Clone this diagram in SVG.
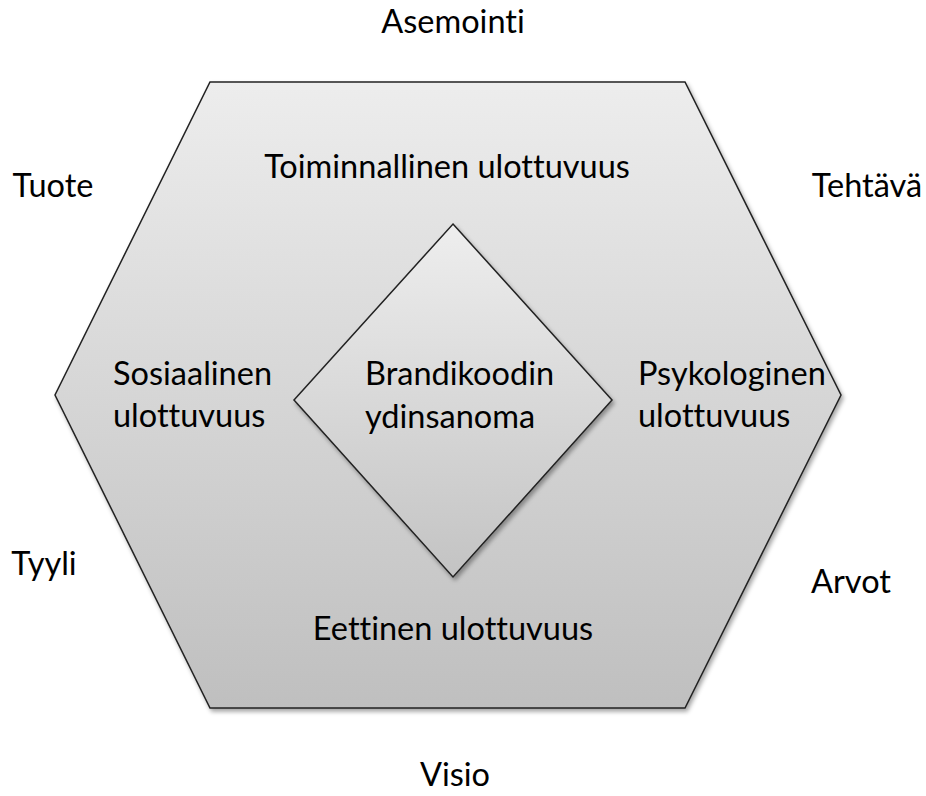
<svg xmlns="http://www.w3.org/2000/svg" width="926" height="796" viewBox="0 0 926 796">
<defs>
<linearGradient id="gHex" x1="0" y1="0" x2="0" y2="1">
<stop offset="0" stop-color="#ededed"/>
<stop offset="1" stop-color="#bfbfbf"/>
</linearGradient>
<linearGradient id="gDia" x1="0" y1="0" x2="0" y2="1">
<stop offset="0" stop-color="#eeeeee"/>
<stop offset="1" stop-color="#c3c3c3"/>
</linearGradient>
<filter id="sh" x="-10%" y="-10%" width="120%" height="120%">
<feDropShadow dx="2" dy="3" stdDeviation="2" flood-color="#000" flood-opacity="0.35"/>
</filter>
</defs>
<style>
text{font-family:Lato,"Open Sans","Liberation Sans",sans-serif;font-size:32.5px;fill:#000;font-variant-ligatures:none;font-feature-settings:"liga" 0,"clig" 0}
.c{text-anchor:middle}
.shape{stroke:#222;stroke-width:1.5}
</style>
<rect width="926" height="796" fill="#fff"/>
<g id="hexagon">
<polygon class="shape" points="210,82 685,82 841,395 685,708 210,708 55,395" fill="url(#gHex)" filter="url(#sh)"/>
</g>
<g id="diamond">
<polygon class="shape" points="453,224 612,400 453,577 294,400" fill="url(#gDia)" filter="url(#sh)"/>
<text x="365" y="385">Brandikoodin</text>
<text x="365" y="428">ydinsanoma</text>
</g>
<g id="connectors"></g>
<g id="toiminnallinen"><text class="c" x="447" y="178">Toiminnallinen ulottuvuus</text></g>
<g id="sosiaalinen"><text x="113" y="385">Sosiaalinen</text><text x="113" y="427">ulottuvuus</text></g>
<g id="psykologinen"><text x="638" y="385">Psykologinen</text><text x="638" y="427">ulottuvuus</text></g>
<g id="eettinen"><text class="c" x="453" y="640">Eettinen ulottuvuus</text></g>
<g id="asemointi"><text class="c" x="453" y="33">Asemointi</text></g>
<g id="tuote"><text class="c" x="53" y="197">Tuote</text></g>
<g id="tehtava"><text class="c" x="867" y="197">Tehtävä</text></g>
<g id="tyyli"><text class="c" x="44" y="575">Tyyli</text></g>
<g id="arvot"><text class="c" x="851" y="593">Arvot</text></g>
<g id="visio"><text class="c" x="455" y="786">Visio</text></g>
</svg>
